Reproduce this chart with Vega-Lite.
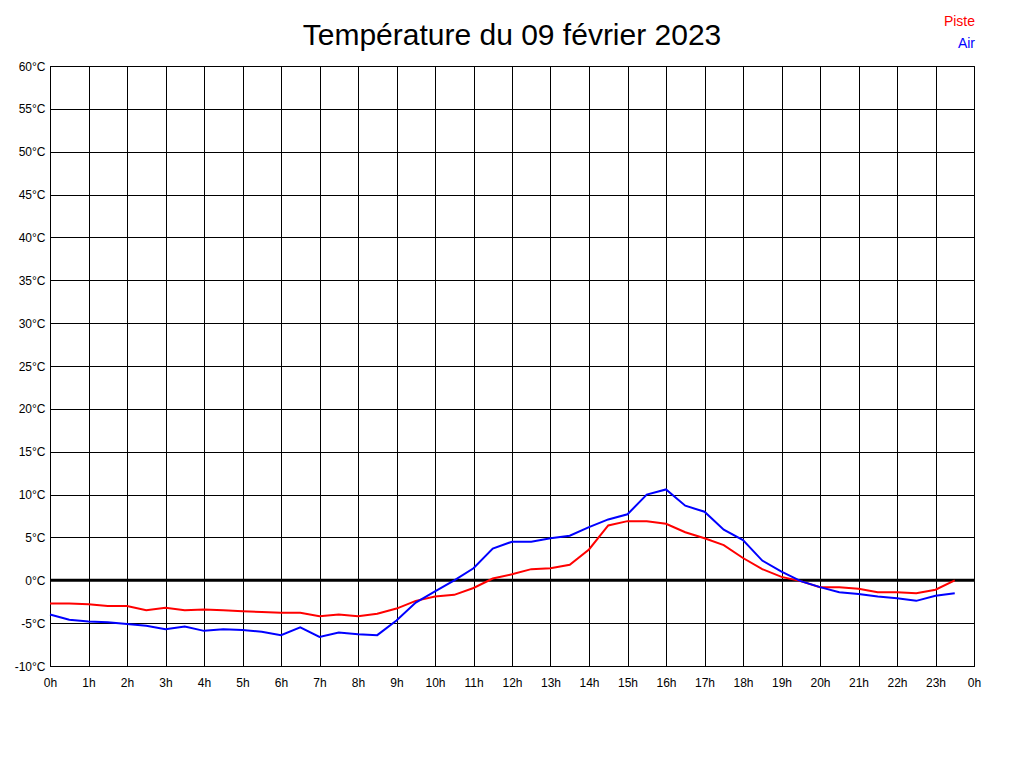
{
  "$schema": "https://vega.github.io/schema/vega-lite/v6.json",
  "autosize": {"type": "none"},
  "width": 924,
  "height": 600,
  "padding": {"left": 50, "top": 66, "right": 50, "bottom": 102},
  "background": "white",
  "title": {
    "text": "Température du 09 février 2023",
    "font": "Liberation Sans",
    "fontSize": 30,
    "fontWeight": "normal",
    "color": "black",
    "anchor": "middle",
    "offset": 7,
    "dy": 43
  },
  "data": {
    "values": [
      {"t": 0, "Piste": -2.7, "Air": -4.0},
      {"t": 0.5, "Piste": -2.7, "Air": -4.6},
      {"t": 1, "Piste": -2.8, "Air": -4.8},
      {"t": 1.5, "Piste": -3.0, "Air": -4.9},
      {"t": 2, "Piste": -3.0, "Air": -5.1},
      {"t": 2.5, "Piste": -3.5, "Air": -5.3},
      {"t": 3, "Piste": -3.2, "Air": -5.7},
      {"t": 3.5, "Piste": -3.5, "Air": -5.4},
      {"t": 4, "Piste": -3.4, "Air": -5.9},
      {"t": 4.5, "Piste": -3.5, "Air": -5.7},
      {"t": 5, "Piste": -3.6, "Air": -5.8},
      {"t": 5.5, "Piste": -3.7, "Air": -6.0},
      {"t": 6, "Piste": -3.8, "Air": -6.4},
      {"t": 6.5, "Piste": -3.8, "Air": -5.5},
      {"t": 7, "Piste": -4.2, "Air": -6.6},
      {"t": 7.5, "Piste": -4.0, "Air": -6.1},
      {"t": 8, "Piste": -4.2, "Air": -6.3},
      {"t": 8.5, "Piste": -3.9, "Air": -6.4},
      {"t": 9, "Piste": -3.3, "Air": -4.7},
      {"t": 9.5, "Piste": -2.4, "Air": -2.6},
      {"t": 10, "Piste": -1.9, "Air": -1.3},
      {"t": 10.5, "Piste": -1.7, "Air": 0.0},
      {"t": 11, "Piste": -0.9, "Air": 1.4},
      {"t": 11.5, "Piste": 0.2, "Air": 3.7},
      {"t": 12, "Piste": 0.7, "Air": 4.5},
      {"t": 12.5, "Piste": 1.3, "Air": 4.5},
      {"t": 13, "Piste": 1.4, "Air": 4.9},
      {"t": 13.5, "Piste": 1.8, "Air": 5.2},
      {"t": 14, "Piste": 3.6, "Air": 6.2},
      {"t": 14.5, "Piste": 6.4, "Air": 7.1},
      {"t": 15, "Piste": 6.9, "Air": 7.7},
      {"t": 15.5, "Piste": 6.9, "Air": 10.0},
      {"t": 16, "Piste": 6.6, "Air": 10.6},
      {"t": 16.5, "Piste": 5.6, "Air": 8.7},
      {"t": 17, "Piste": 4.9, "Air": 8.0},
      {"t": 17.5, "Piste": 4.1, "Air": 5.9},
      {"t": 18, "Piste": 2.6, "Air": 4.7},
      {"t": 18.5, "Piste": 1.3, "Air": 2.3},
      {"t": 19, "Piste": 0.4, "Air": 1.0},
      {"t": 19.5, "Piste": -0.1, "Air": -0.1},
      {"t": 20, "Piste": -0.8, "Air": -0.8},
      {"t": 20.5, "Piste": -0.8, "Air": -1.4},
      {"t": 21, "Piste": -1.0, "Air": -1.6},
      {"t": 21.5, "Piste": -1.4, "Air": -1.9},
      {"t": 22, "Piste": -1.4, "Air": -2.1},
      {"t": 22.5, "Piste": -1.5, "Air": -2.4},
      {"t": 23, "Piste": -1.1, "Air": -1.8},
      {"t": 23.5, "Piste": 0.0, "Air": -1.5}
    ]
  },
  "layer": [
    {
      "data": {"values": [{"zero": 0}]},
      "mark": {"type": "rule", "color": "black", "strokeWidth": 3},
      "encoding": {
        "y": {"field": "zero", "type": "quantitative", "scale": {"domain": [-10, 60], "nice": false, "zero": false}}
      }
    },
    {
      "transform": [{"fold": ["Piste", "Air"], "as": ["serie", "temp"]}],
      "mark": {"type": "line", "strokeWidth": 2},
      "encoding": {
        "x": {
          "field": "t",
          "type": "quantitative",
          "scale": {"domain": [0, 24], "nice": false, "zero": false},
          "axis": {
            "values": [0, 1, 2, 3, 4, 5, 6, 7, 8, 9, 10, 11, 12, 13, 14, 15, 16, 17, 18, 19, 20, 21, 22, 23, 24],
            "labelExpr": "(datum.value % 24) + 'h'",
            "labelPadding": 11,
            "labelFlush": false,
            "labelOverlap": false
          }
        },
        "y": {
          "field": "temp",
          "type": "quantitative",
          "scale": {"domain": [-10, 60], "nice": false, "zero": false},
          "axis": {
            "values": [-10, -5, 0, 5, 10, 15, 20, 25, 30, 35, 40, 45, 50, 55, 60],
            "labelExpr": "datum.value + '°C'",
            "labelPadding": 5,
            "labelOverlap": false
          }
        },
        "color": {
          "field": "serie",
          "type": "nominal",
          "sort": ["Piste", "Air"],
          "scale": {"domain": ["Piste", "Air"], "range": ["#ff0000", "#0000ff"]},
          "legend": {
            "orient": "none",
            "legendX": 911,
            "legendY": -51,
            "title": null,
            "padding": 0,
            "symbolSize": 0,
            "symbolOpacity": 0,
            "symbolStrokeWidth": 0,
            "labelOffset": 0,
            "labelAlign": "right",
            "labelFont": "Liberation Sans",
            "labelFontSize": 14,
            "labelColor": {"expr": "datum.label == 'Piste' ? '#ff0000' : '#0000ff'"},
            "rowPadding": 8
          }
        }
      }
    }
  ],
  "config": {
    "view": {"stroke": "black", "strokeWidth": 1},
    "axis": {
      "title": null,
      "domainColor": "black",
      "grid": true,
      "gridColor": "black",
      "gridOpacity": 1,
      "gridWidth": 1,
      "ticks": false,
      "labelColor": "black",
      "labelFont": "Liberation Sans",
      "labelFontSize": 12
    }
  }
}
